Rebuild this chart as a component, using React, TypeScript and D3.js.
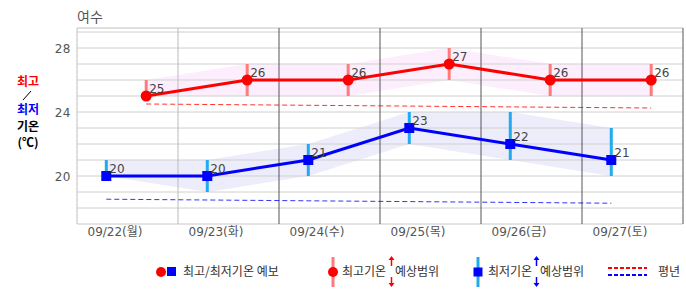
import React from "react";
import * as d3 from "d3";

const title = "여수";
const days = ["09/22(월)", "09/23(화)", "09/24(수)", "09/25(목)", "09/26(금)", "09/27(토)"];
const maxTemp = [25, 26, 26, 27, 26, 26];
const maxLow = [25, 25, 25, 26, 25, 25];
const maxHigh = [26, 27, 27, 28, 27, 27];
const minTemp = [20, 20, 21, 23, 22, 21];
const minLow = [20, 19, 20, 22, 21, 20];
const minHigh = [21, 21, 22, 24, 24, 23];
const maxNormal = [24.5, 24.45, 24.4, 24.35, 24.3, 24.25];
const minNormal = [18.55, 18.5, 18.45, 18.4, 18.35, 18.3];
const yTicks = [20, 24, 28];
const gridValues = [18, 19, 20, 21, 22, 23, 24, 25, 26, 27, 28, 29];

const W = 686, H = 295;
const L = 77, R = 683, T = 28, B = 224;
const FONT = "'DejaVu Sans', 'Noto Sans CJK KR', sans-serif";
const KFONT = "'Noto Sans CJK KR', sans-serif";

export default function App() {
  const x = d3.scaleBand<string>().domain(days).range([L, R]).padding(0);
  const y = d3.scaleLinear().domain([17, 29]).range([B, 32]);
  const bw = x.bandwidth();
  const xr = (i: number) => (x(days[i]) as number) + bw * 0.685;
  const xb = (i: number) => (x(days[i]) as number) + bw * 0.29;

  const idx = days.map((_, i) => i);
  const redLine = d3.line<number>().x(xr).y((i) => y(maxTemp[i]))(idx) as string;
  const blueLine = d3.line<number>().x(xb).y((i) => y(minTemp[i]))(idx) as string;
  const redArea = d3.area<number>().x(xr).y0((i) => y(maxLow[i])).y1((i) => y(maxHigh[i]))(idx) as string;
  const blueArea = d3.area<number>().x(xb).y0((i) => y(minLow[i])).y1((i) => y(minHigh[i]))(idx) as string;
  const redNorm = d3.line<number>().x(xr).y((i) => y(maxNormal[i]))(idx) as string;
  const blueNorm = d3.line<number>().x(xb).y((i) => y(minNormal[i]))(idx) as string;

  const redC = "#ff0000";
  const blueC = "#0000ff";
  const redBar = "#ff7b7b";
  const blueBar = "#22aaf0";

  const arrow = (cx: number, y1: number, y2: number, color: string) => {
    const up = y2 < y1;
    const tip = y2;
    const base = up ? tip + 4 : tip - 4;
    return (
      <g>
        <line x1={cx} x2={cx} y1={y1} y2={base} stroke={color} strokeWidth={1.5} />
        <path d={`M${cx - 3},${base} L${cx + 3},${base} L${cx},${tip} Z`} fill={color} />
      </g>
    );
  };

  return (
    <svg width={W} height={H} style={{ position: "absolute", left: 0, top: 0, background: "#fff" }}>
      <text x={L} y={22} fontSize={14} fill="#555" fontFamily={KFONT}>{title}</text>

      {/* left label */}
      <g fontFamily={KFONT} fontSize={12} fontWeight="bold" textAnchor="middle">
        <text x={28} y={86} fill={redC}>최고</text>
        <line x1={23} y1={100} x2={31} y2={91} stroke="#000" strokeWidth={1} />
        <text x={28} y={114} fill={blueC}>최저</text>
        <text x={28} y={131} fill="#000">기온</text>
        <text x={28} y={147} fill="#000">(℃)</text>
      </g>

      {/* bands (under grid) */}
      <path d={redArea} fill="#fdeefd" />
      <path d={blueArea} fill="#ececfb" />

      {/* horizontal grid */}
      {gridValues.map((v) => (
        <line key={v} x1={L} x2={R} y1={y(v)} y2={y(v)} stroke="#d0d0d0" strokeWidth={1} />
      ))}
      <line x1={L} x2={R} y1={T} y2={T} stroke="#c0c0c0" strokeWidth={1} />
      <line x1={L} x2={R} y1={B} y2={B} stroke="#c8c8c8" strokeWidth={1} />
      <line x1={L} x2={L} y1={T} y2={B} stroke="#c0c0c0" strokeWidth={1} />
      {days.map((d, i) => (
        <line
          key={d}
          x1={(x(d) as number) + bw}
          x2={(x(d) as number) + bw}
          y1={T}
          y2={B}
          stroke={i === 0 ? "#bbbbbb" : "#555555"}
          strokeWidth={1}
        />
      ))}

      {/* y ticks */}
      {yTicks.map((v) => (
        <text key={v} x={71} y={y(v) + 4.5} fontSize={12} fill="#555" textAnchor="end" fontFamily={FONT} letterSpacing={0.5}>
          {v}
        </text>
      ))}

      {/* x labels */}
      {days.map((d) => (
        <text key={d} x={(x(d) as number) + 38} y={236} fontSize={12} fill="#555" textAnchor="middle" fontFamily={FONT}>
          {d}
        </text>
      ))}

      {/* normals */}
      <path d={redNorm} fill="none" stroke={redC} strokeWidth={1} strokeDasharray="5,3" opacity={0.8} />
      <path d={blueNorm} fill="none" stroke={blueC} strokeWidth={1} strokeDasharray="5,3" opacity={0.8} />

      {/* range bars */}
      {idx.map((i) => (
        <line key={"rb" + i} x1={xr(i)} x2={xr(i)} y1={y(maxLow[i])} y2={y(maxHigh[i])} stroke={redBar} strokeWidth={3} />
      ))}
      {idx.map((i) => (
        <line key={"bb" + i} x1={xb(i)} x2={xb(i)} y1={y(minLow[i])} y2={y(minHigh[i])} stroke={blueBar} strokeWidth={3} />
      ))}

      {/* lines */}
      <path d={redLine} fill="none" stroke={redC} strokeWidth={3} />
      <path d={blueLine} fill="none" stroke={blueC} strokeWidth={3} />

      {idx.map((i) => (
        <circle key={"rc" + i} cx={xr(i)} cy={y(maxTemp[i])} r={5.5} fill={redC} />
      ))}
      {idx.map((i) => (
        <rect key={"bs" + i} x={xb(i) - 5} y={y(minTemp[i]) - 5} width={10} height={10} fill={blueC} />
      ))}

      {/* value labels */}
      <g fontFamily={FONT} fontSize={12} fill="#444">
        {idx.map((i) => (
          <text key={"rl" + i} x={xr(i) + 3} y={y(maxTemp[i]) - 3}>{maxTemp[i]}</text>
        ))}
        {idx.map((i) => (
          <text key={"bl" + i} x={xb(i) + 3} y={y(minTemp[i]) - 3}>{minTemp[i]}</text>
        ))}
      </g>

      {/* legend */}
      <g fontFamily={KFONT} fontSize={12} fill="#333">
        <circle cx={161} cy={272} r={5} fill={redC} />
        <rect x={167} y={267} width={9} height={9} fill={blueC} />
        <text x={183} y={276}>최고/최저기온 예보</text>

        <line x1={333} x2={333} y1={257} y2={287} stroke={redBar} strokeWidth={3} />
        <circle cx={333} cy={272} r={5} fill={redC} />
        <text x={342} y={276}>최고기온</text>
        {arrow(391.5, 266, 256, redC)}
        {arrow(391.5, 277, 287, redC)}
        <text x={395} y={276}>예상범위</text>

        <line x1={478} x2={478} y1={257} y2={287} stroke={blueBar} strokeWidth={3} />
        <rect x={473.5} y={267.5} width={9} height={9} fill={blueC} />
        <text x={488} y={276}>최저기온</text>
        {arrow(536.5, 266, 256, blueC)}
        {arrow(536.5, 277, 287, blueC)}
        <text x={540} y={276}>예상범위</text>

        <line x1={608} x2={647} y1={268} y2={268} stroke={redC} strokeWidth={2} strokeDasharray="4,2" />
        <line x1={608} x2={647} y1={275} y2={275} stroke={blueC} strokeWidth={2} strokeDasharray="4,2" />
        <text x={658} y={276}>평년</text>
      </g>
    </svg>
  );
}
